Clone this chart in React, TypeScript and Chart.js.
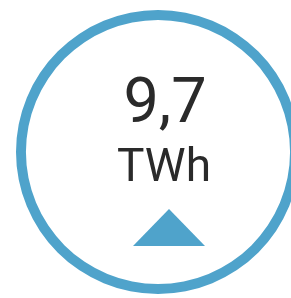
import React, { useEffect, useRef } from "react";
import { Chart, registerables } from "chart.js";

Chart.register(...registerables);

const ringLabels = ["Total"];
const ringValues = [9.7];
const valueText = "9,7";
const unitText = "TWh";
const trendDirection = "up";

const ringColor = "#4FA3CB";
const textColor = "#2A2A2A";

const centerTextPlugin = {
  id: "centerText",
  afterDraw(chart: any) {
    const { ctx, chartArea } = chart;
    const cx = (chartArea.left + chartArea.right) / 2;
    const cy = (chartArea.top + chartArea.bottom) / 2;
    ctx.save();
    ctx.fillStyle = textColor;
    ctx.textAlign = "center";
    ctx.textBaseline = "alphabetic";
    ctx.font = "400 63px Roboto, sans-serif";
    ctx.fillText(valueText, cx + 7, cy - 30);
    ctx.font = "400 46px Roboto, sans-serif";
    ctx.fillText(unitText, cx + 6, cy + 29);
    ctx.fillStyle = ringColor;
    ctx.beginPath();
    const tx = cx + 11;
    if (trendDirection === "up") {
      ctx.moveTo(tx, cy + 57);
      ctx.lineTo(tx + 36, cy + 94);
      ctx.lineTo(tx - 36, cy + 94);
    } else {
      ctx.moveTo(tx, cy + 94);
      ctx.lineTo(tx + 36, cy + 57);
      ctx.lineTo(tx - 36, cy + 57);
    }
    ctx.closePath();
    ctx.fill();
    ctx.restore();
  },
};

export default function App() {
  const canvasRef = useRef<HTMLCanvasElement | null>(null);

  useEffect(() => {
    let chart: Chart | null = null;
    let cancelled = false;
    const make = () => {
      if (cancelled || !canvasRef.current) return;
      chart = new Chart(canvasRef.current, {
        type: "doughnut",
        data: {
          labels: ringLabels,
          datasets: [
            {
              data: ringValues,
              backgroundColor: [ringColor],
              borderWidth: 0,
              hoverOffset: 0,
            },
          ],
        },
        options: {
          responsive: false,
          animation: false,
          devicePixelRatio: 1,
          cutout: "93%",
          layout: { padding: 0 },
          plugins: {
            legend: { display: false },
            tooltip: { enabled: false },
          },
          events: [],
        },
        plugins: [centerTextPlugin],
      });
    };
    const fonts: any = (document as any).fonts;
    if (fonts && fonts.load) {
      Promise.all([fonts.load("400 63px Roboto"), fonts.load("400 46px Roboto")])
        .then(make, make);
    } else {
      make();
    }
    return () => {
      cancelled = true;
      if (chart) chart.destroy();
    };
  }, []);

  return (
    <div
      style={{
        position: "fixed",
        left: 0,
        top: 0,
        width: 291,
        height: 298,
        overflow: "hidden",
        background: "#ffffff",
      }}
    >
      <canvas
        ref={canvasRef}
        width={284}
        height={284}
        style={{ position: "absolute", left: 16, top: 10, width: 284, height: 284 }}
      />
    </div>
  );
}
